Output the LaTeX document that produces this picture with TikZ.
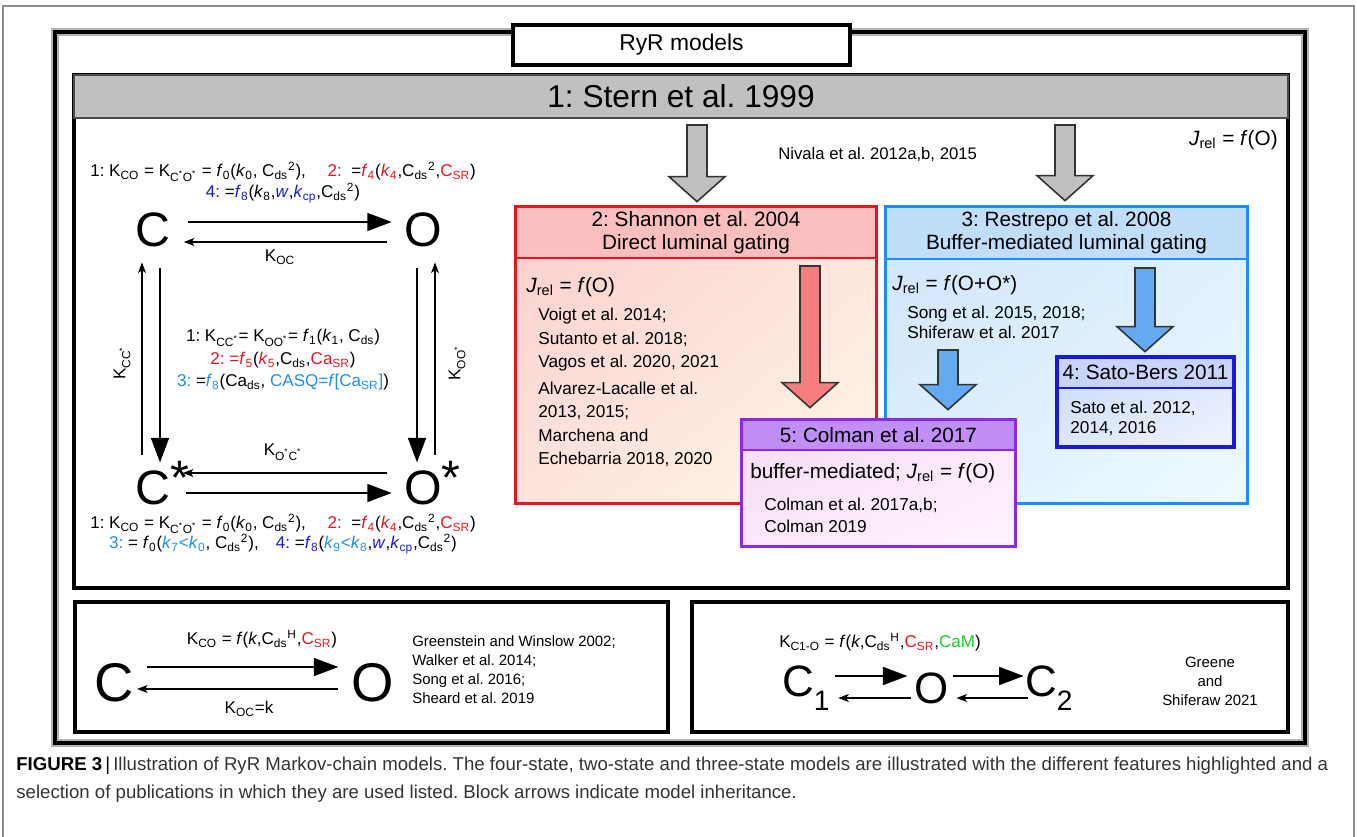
\documentclass[tikz,border=0pt]{standalone}
\usepackage{fontspec}
\setmainfont{Liberation Sans}
\usetikzlibrary{arrows.meta,positioning,fit,calc,shadings}
\definecolor{ryrred}{RGB}{232,22,28}
\definecolor{ryrblue}{RGB}{30,140,250}
\definecolor{ryrnavy}{RGB}{25,25,215}
\definecolor{ryrgreen}{RGB}{30,200,40}
\definecolor{ryrpurple}{RGB}{140,40,230}
\definecolor{ryrgray}{RGB}{192,192,192}
\definecolor{redhead}{RGB}{250,190,190}
\definecolor{redA}{RGB}{250,205,205}
\definecolor{redB}{RGB}{253,228,220}
\definecolor{redC}{RGB}{255,247,232}
\definecolor{bluehead}{RGB}{192,222,250}
\definecolor{blueA}{RGB}{205,228,250}
\definecolor{blueB}{RGB}{222,240,253}
\definecolor{blueC}{RGB}{238,250,255}
\definecolor{navyhead}{RGB}{200,212,250}
\definecolor{navyA}{RGB}{200,215,248}
\definecolor{navyB}{RGB}{222,232,252}
\definecolor{navyC}{RGB}{238,244,255}
\definecolor{purphead}{RGB}{192,142,245}
\definecolor{purpA}{RGB}{246,218,246}
\definecolor{purpB}{RGB}{251,232,250}
\definecolor{purpC}{RGB}{255,244,255}
\definecolor{redfill}{RGB}{245,125,125}
\definecolor{bluefill}{RGB}{100,170,240}
\newcommand{\subt}[1]{\textsubscript{#1}}
\newcommand{\supt}[1]{\textsuperscript{#1}}
\newcommand{\rd}[1]{\textcolor{ryrred}{#1}}
\newcommand{\bl}[1]{\textcolor{ryrblue}{#1}}
\newcommand{\nv}[1]{\textcolor{ryrnavy}{#1}}
\newcommand{\statefont}{\fontsize{27.5}{30}\selectfont}
\newcommand{\bigstatefont}{\fontsize{31}{34}\selectfont}
\newcommand{\eqfont}{\fontsize{9.7}{12.8}\selectfont}
\newcommand{\reffont}{\fontsize{9.8}{13.3}\selectfont}
\newcommand{\headfont}{\fontsize{11.8}{13.2}\selectfont}
\newcommand{\sternfont}{\fontsize{18}{20}\selectfont}
\newcommand{\titlefont}{\fontsize{13}{15}\selectfont}
\newcommand{\smallfont}{\fontsize{8.5}{10.8}\selectfont}
\newcommand{\capfont}{\fontsize{10.6}{15.9}\selectfont}
% block arrow pointing down: fill, top coordinate, tip coordinate
\newcommand{\blockdown}[3]{%
  \path (#2) coordinate (bt) (#2 |- #3) coordinate (bp);
  \draw[blockedge, fill=#1] ($(bt)+(-10,0)$) -- ($(bt)+(10,0)$) -- ($(bp)+(10,-25)$)
    -- ($(bp)+(28,-25)$) -- (bp) -- ($(bp)+(-28,-25)$) -- ($(bp)+(-10,-25)$) -- cycle;}

\begin{document}
\frenchspacing
\begin{tikzpicture}[x=0.02cm, y=-0.02cm,
  state/.style={font=\statefont, inner sep=0pt},
  eq/.style={font=\eqfont, inner sep=0pt, align=center},
  reflist/.style={font=\reffont, inner sep=0pt, align=left, anchor=north west},
  boxhead/.style={inner sep=0pt, font=\headfont, align=center},
  fwd/.style={line width=1.7pt, -{Triangle[length=14pt,width=10pt]}},
  bwd/.style={line width=0.7pt, -{Stealth[length=6pt,width=4.5pt,inset=1.5pt]}},
  blockedge/.style={draw=black!80, line width=0.9pt, line join=miter},
]
\useasboundingbox (0,0) rectangle (1357,837);
\draw[black!45, line width=0.6pt] (3,837) -- (3,6) -- (1354,6) -- (1354,837);

% outer frame and title
\draw[black!30, line width=4.6pt] (55,32) rectangle (1305,743);
\node[fit={(55,32) (1305,743)}, inner sep=0pt, draw, line width=2.3pt] (frame) {};
\node[fit={(513,25) (850,65)}, inner sep=0pt, draw, fill=white, line width=1.8pt] (ryr) {};
\node[font=\titlefont, inner sep=0pt] (ryrtext) at (ryr.center) {RyR models};

% four-state model
\node[fit={(74,75) (1288,588)}, inner sep=0pt, draw, line width=2pt] (stern) {};
\node[fit={(74,75) (1288,118)}, inner sep=0pt, draw=black!70, line width=1.5pt, fill=ryrgray] (sternhead) {};
\node[font=\sternfont, inner sep=0pt] (sterntext) at (sternhead.center) {1: Stern et al. 1999};
\node[anchor=east, font=\headfont, inner sep=0pt] (sternrel) at (1278,140) {\textit{J}\subt{rel} = \textit{f}(O)};
\node[anchor=west, font=\fontsize{9.5}{11}\selectfont, inner sep=0pt] (nivala) at (778,155) {Nivala et al. 2012a,b, 2015};

\node[state] (C) at (153,230) {C};
\node[state] (O) at (423,230) {O};
\node[state] (Cs) at (153,488) {C\rlap{\smash{\raisebox{6pt}{*}}}};
\node[state] (Os) at (423,488) {O\rlap{\smash{\raisebox{6pt}{*}}}};

\draw[fwd] ($(C.east)+(17,-8)$) -- ($(O.west)+(-12,-8)$);
\draw[bwd] ($(O.west)+(-17,12)$) -- ($(C.east)+(13,12)$);
\draw[fwd] ($(C.south)+(7,21)$) -- ($(Cs.north)+(7,-8)$);
\draw[bwd] ($(Cs.north)+(-11,-16)$) -- ($(C.south)+(-11,15)$);
\draw[fwd] ($(O.south)+(-6,21)$) -- ($(Os.north)+(-6,-8)$);
\draw[bwd] ($(Os.north)+(12,-16)$) -- ($(O.south)+(12,15)$);
\draw[bwd] ($(Os.west)+(-17,-15)$) -- ($(Cs.east)+(12,-15)$);
\draw[fwd] ($(Cs.east)+(15,5)$) -- ($(Os.west)+(-12,5)$);

\node[eq] (koc) at (280,257) {K\subt{OC}};
\node[eq] (kocs) at (283,452) {K\subt{O\supt{*}C\supt{*}}};
\node[eq, rotate=90] (kccs) at (122,363) {K\subt{CC\supt{*}}};
\node[eq, rotate=90] (koos) at (457,363) {K\subt{OO\supt{*}}};

\node[eq] (eqtopa) at (283,172) {1: K\subt{CO} = K\subt{C\supt{*}O\supt{*}} = \textit{f}\subt{0}(\textit{k}\subt{0}, C\subt{ds}\supt{2}),\quad\ \rd{2:}\ \ =\rd{\textit{f}\subt{4}}(\rd{\textit{k}\subt{4}},C\subt{ds}\supt{2},\rd{C\subt{SR}})};
\node[eq] (eqtopb) at (283,193) {\nv{4:} =\nv{\textit{f}\subt{8}}(\textit{k}\subt{8},\nv{\textit{w}},\nv{\textit{k}\subt{cp}},C\subt{ds}\supt{2})};
\node[eq] (eqmid) at (283,360) {1: K\subt{CC\supt{*}}= K\subt{OO\supt{*}}= \textit{f}\subt{1}(\textit{k}\subt{1}, C\subt{ds})\\
  \rd{2: =\textit{f}\subt{5}}(\rd{\textit{k}\subt{5}},C\subt{ds},\rd{Ca\subt{SR}})\\
  \bl{3:} =\bl{\textit{f}\subt{8}}(Ca\subt{ds}, \bl{CASQ=\textit{f}[Ca\subt{SR}]})};
\node[eq] (eqbota) at (283,524) {1: K\subt{CO} = K\subt{C\supt{*}O\supt{*}} = \textit{f}\subt{0}(\textit{k}\subt{0}, C\subt{ds}\supt{2}),\quad\ \rd{2:}\ \ =\rd{\textit{f}\subt{4}}(\rd{\textit{k}\subt{4}},C\subt{ds}\supt{2},\rd{C\subt{SR}})};
\node[eq] (eqbotb) at (283,544) {\bl{3:} = \textit{f}\subt{0}(\bl{\textit{k}\subt{7}<\textit{k}\subt{0}}, C\subt{ds}\supt{2}),\quad \nv{4:} =\nv{\textit{f}\subt{8}}(\bl{\textit{k}\subt{9}<\textit{k}\subt{8}},\nv{\textit{w}},\nv{\textit{k}\subt{cp}},C\subt{ds}\supt{2})};

% Shannon
\node[fit={(516,207) (876,503)}, inner sep=0pt, shade, upper left=redA, upper right=redB, lower left=redB, lower right=redC] (shannon) {};
\node[fit={(516,207) (876,258)}, inner sep=0pt, draw=ryrred, line width=1pt, fill=redhead] (shannonhead) {};
\node[boxhead] (shannontext) at (shannonhead.center) {2: Shannon et al. 2004\\Direct luminal gating};
\draw[ryrred, line width=1.8pt] (shannon.north west) rectangle (shannon.south east);
\node[anchor=west, font=\headfont, inner sep=0pt] (shannonrel) at (526,287) {\textit{J}\subt{rel} = \textit{f}(O)};
\node[reflist] (shannonrefs) at (538,308) {Voigt et al. 2014;\\Sutanto et al. 2018;\\Vagos et al. 2020, 2021\\[2pt]
  Alvarez-Lacalle et al.\\2013, 2015;\\Marchena and\\Echebarria 2018, 2020};

% Restrepo
\node[fit={(886,207) (1247,503)}, inner sep=0pt, shade, upper left=blueA, upper right=blueB, lower left=blueB, lower right=blueC] (restrepo) {};
\node[fit={(886,207) (1247,259)}, inner sep=0pt, draw=ryrblue, line width=1pt, fill=bluehead] (restrepohead) {};
\node[boxhead] (restrepotext) at (restrepohead.center) {3: Restrepo et al. 2008\\Buffer-mediated luminal gating};
\draw[ryrblue, line width=1.8pt] (restrepo.north west) rectangle (restrepo.south east);
\node[anchor=west, font=\headfont, inner sep=0pt] (restreporel) at (892,285) {\textit{J}\subt{rel} = \textit{f}(O+O*)};
\node[reflist, font=\fontsize{9.8}{11.4}\selectfont] (restreporefs) at (907,306) {Song et al. 2015, 2018;\\Shiferaw et al. 2017};

% block arrows
\coordinate (g1top) at (697,125);
\coordinate (g1tip) at ($(shannon.north)+(0,-5)$);
\coordinate (g2top) at (1065,125);
\coordinate (g2tip) at ($(restrepo.north)+(0,-6)$);
\blockdown{ryrgray}{g1top}{g1tip}
\blockdown{ryrgray}{g2top}{g2tip}

% Sato-Bers
\node[fit={(1057,357) (1234,447)}, inner sep=0pt, shade, upper left=navyA, upper right=navyB, lower left=navyB, lower right=navyC] (sato) {};
\node[fit={(1057,357) (1234,388)}, inner sep=0pt, draw=ryrnavy, line width=1pt, fill=navyhead] (satohead) {};
\node[boxhead] (satotext) at (satohead.center) {4: Sato-Bers 2011};
\draw[ryrnavy, line width=2.2pt] (sato.north west) rectangle (sato.south east);
\node[reflist, font=\fontsize{9.8}{11.4}\selectfont] (satorefs) at (1070,401) {Sato et al. 2012,\\2014, 2016};

% Colman
\node[fit={(742,420) (1015,546)}, inner sep=0pt, shade, upper left=purpA, upper right=purpB, lower left=purpB, lower right=purpC] (colman) {};
\node[fit={(742,420) (1015,450)}, inner sep=0pt, draw=ryrpurple, line width=1pt, fill=purphead] (colmanhead) {};
\node[boxhead] (colmantext) at (colmanhead.center) {5: Colman et al. 2017};
\draw[ryrpurple, line width=2pt] (colman.north west) rectangle (colman.south east);
\node[anchor=west, font=\headfont, inner sep=0pt] (colmanrel) at (750,473) {buffer-mediated; \textit{J}\subt{rel} = \textit{f}(O)};
\node[reflist, font=\fontsize{9.8}{12.4}\selectfont] (colmanrefs) at (764,498) {Colman et al. 2017a,b;\\Colman 2019};

\coordinate (rtop) at (810,266);
\coordinate (rtip) at ($(colman.north)+(0,-12)$);
\coordinate (b1top) at (1145,268);
\coordinate (b1tip) at ($(sato.north)+(0,-5)$);
\coordinate (b2top) at (948,350);
\coordinate (b2tip) at ($(colman.north)+(0,-10)$);
\blockdown{redfill}{rtop}{rtip}
\blockdown{bluefill}{b1top}{b1tip}
\blockdown{bluefill}{b2top}{b2tip}

% two-state model
\node[fit={(75,602) (668,732)}, inner sep=0pt, draw, line width=1.8pt] (twostate) {};
\node[state, font=\bigstatefont] (C2s) at (114,683) {C};
\node[state, font=\bigstatefont] (O2s) at (373,683) {O};
\draw[fwd] ($(C2s.east)+(13,-16)$) -- ($(O2s.west)+(-13,-16)$);
\draw[bwd] ($(O2s.west)+(-13,6)$) -- ($(C2s.east)+(3,6)$);
\node[eq] (kco2) at (262,639) {K\subt{CO} = \textit{f}(\textit{k},C\subt{ds}\supt{H},\rd{C\subt{SR}})};
\node[eq] (koc2) at (249,709) {K\subt{OC}=k};
\node[anchor=west, font=\smallfont, inner sep=0pt, align=left] (tworefs) at (412,670) {Greenstein and Winslow 2002;\\Walker et al. 2014;\\Song et al. 2016;\\Sheard et al. 2019};

% three-state model
\node[fit={(692,602) (1288,732)}, inner sep=0pt, draw, line width=1.8pt] (threestate) {};
\node[state, font=\fontsize{25}{28}\selectfont] (C1) at (798,688) {C\rlap{\raisebox{-8pt}{\fontsize{16}{16}\selectfont 1}}};
\node[state, font=\fontsize{25}{28}\selectfont] (O3) at (932,688) {O};
\node[state, font=\fontsize{25}{28}\selectfont] (C2) at (1041,688) {C\rlap{\raisebox{-8pt}{\fontsize{16}{16}\selectfont 2}}};
\draw[fwd] ($(C1.east)+(21,-12)$) -- ($(O3.west)+(-7,-12)$);
\draw[bwd] ($(O3.west)+(-4,10)$) -- ($(C1.east)+(24,10)$);
\draw[fwd] ($(O3.east)+(4,-12)$) -- ($(C2.west)+(-1,-12)$);
\draw[bwd] ($(C2.west)+(3,10)$) -- ($(O3.east)+(7,10)$);
\node[eq] (kc1o) at (880,642) {K\subt{C1-O} = \textit{f}(\textit{k},C\subt{ds}\supt{H},\rd{C\subt{SR}},\textcolor{ryrgreen}{CaM})};
\node[font=\smallfont, inner sep=0pt, align=center] (threerefs) at (1210,681) {Greene\\and\\Shiferaw 2021};

% caption
\node[anchor=north west, inner sep=0pt, align=left, font=\capfont] (caption) at (16,757) {\textbf{FIGURE 3}\,|\,\textcolor{black!80}{Illustration of RyR Markov-chain models. The four-state, two-state and three-state models are illustrated with the different features highlighted and a}\\
  \textcolor{black!80}{selection of publications in which they are used listed. Block arrows indicate model inheritance.}};
\end{tikzpicture}
\end{document}
